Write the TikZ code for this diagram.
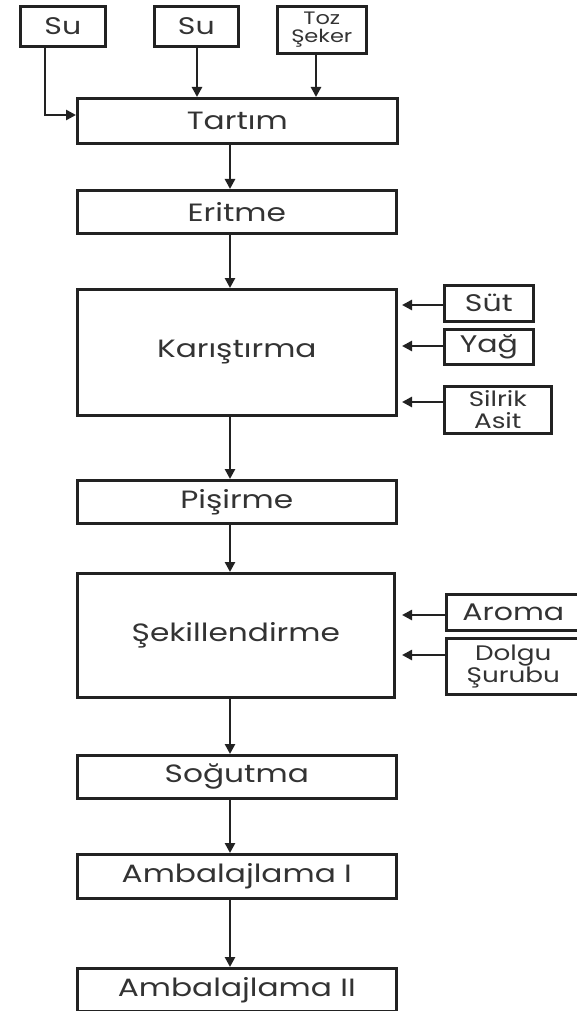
\documentclass[tikz,border=0pt]{standalone}
\usepackage{fontspec}
\setmainfont[FakeStretch=1.25]{Poppins}
\usetikzlibrary{arrows.meta,calc}
\definecolor{ink}{HTML}{222222}
\definecolor{txt}{HTML}{333333}
\begin{document}
\begin{tikzpicture}[x=1pt,y=-1pt,
  box/.style={draw=ink,line width=2.6pt,anchor=north west,inner sep=0pt,align=center,text=txt,font=\fontsize{25}{26}\selectfont},
  sbox/.style={box,font=\fontsize{24}{24}\selectfont},
  tbox/.style={box,font=\fontsize{21}{22}\selectfont},
  arr/.style={draw=ink,line width=2.8pt,-{Triangle[length=10pt,width=10pt]}}]
\useasboundingbox (0,0) rectangle (577,1011);
% inputs at top
\node[sbox,minimum width=85pt,minimum height=40pt] (su1) at (19,5) {Su};
\node[sbox,minimum width=84pt,minimum height=40pt] (su2) at (153,5) {Su};
\node[box,minimum width=89pt,minimum height=47pt,font=\fontsize{18}{18}\selectfont] (toz) at (276,5) {Toz\\Şeker};
% main column
\node[box,minimum width=320pt,minimum height=45pt] (tartim) at (76,97) {Tartım};
\node[box,minimum width=319pt,minimum height=43pt] (eritme) at (76,189) {Eritme};
\node[box,minimum width=319pt,minimum height=126pt] (karis) at (76,288) {Karıştırma};
\node[box,minimum width=319pt,minimum height=43pt] (pisirme) at (76,479) {Pişirme};
\node[box,minimum width=317pt,minimum height=124pt] (sekil) at (76,572) {Şekillendirme};
\node[box,minimum width=319pt,minimum height=43pt] (sogutma) at (76,754) {Soğutma};
\node[box,minimum width=319pt,minimum height=44pt] (amb1) at (76,853) {Ambalajlama I};
\node[box,minimum width=319pt,minimum height=43pt] (amb2) at (76,967) {Ambalajlama II};
% side inputs
\node[sbox,minimum width=89pt,minimum height=36pt] (sut) at (443,284) {Süt};
\node[sbox,minimum width=89pt,minimum height=35pt] (yag) at (443,328) {Yağ};
\node[tbox,minimum width=107pt,minimum height=47pt] (silrik) at (443,385) {Silrik\\Asit};
\node[sbox,minimum width=134pt,minimum height=36pt] (aroma) at (445,593) {Aroma};
\node[tbox,minimum width=134pt,minimum height=56pt] (dolgu) at (445,637) {Dolgu\\Şurubu};
% coordinates
\coordinate (col) at (230,0);
\coordinate (s1) at (45,0);
\coordinate (s2) at (197,0);
\coordinate (s3) at (316,0);
\coordinate (rx) at (402,0);
% top connectors
\draw[arr] (su1.south -| s1) |- (tartim.west |- 0,115);
\draw[arr] (su2.south -| s2) -- (tartim.north -| s2);
\draw[arr] (toz.south -| s3) -- (tartim.north -| s3);
% main flow
\draw[arr] (tartim.south -| col) -- (eritme.north -| col);
\draw[arr] (eritme.south -| col) -- (karis.north -| col);
\draw[arr] (karis.south -| col) -- (pisirme.north -| col);
\draw[arr] (pisirme.south -| col) -- (sekil.north -| col);
\draw[arr] (sekil.south -| col) -- (sogutma.north -| col);
\draw[arr] (sogutma.south -| col) -- (amb1.north -| col);
\draw[arr] (amb1.south -| col) -- (amb2.north -| col);
% side connectors
\draw[arr] (sut.west |- 0,305) -- (rx |- 0,305);
\draw[arr] (yag.west |- 0,346) -- (rx |- 0,346);
\draw[arr] (silrik.west |- 0,402) -- (rx |- 0,402);
\draw[arr] (aroma.west |- 0,615) -- (rx |- 0,615);
\draw[arr] (dolgu.west |- 0,655) -- (rx |- 0,655);
\end{tikzpicture}
\end{document}
